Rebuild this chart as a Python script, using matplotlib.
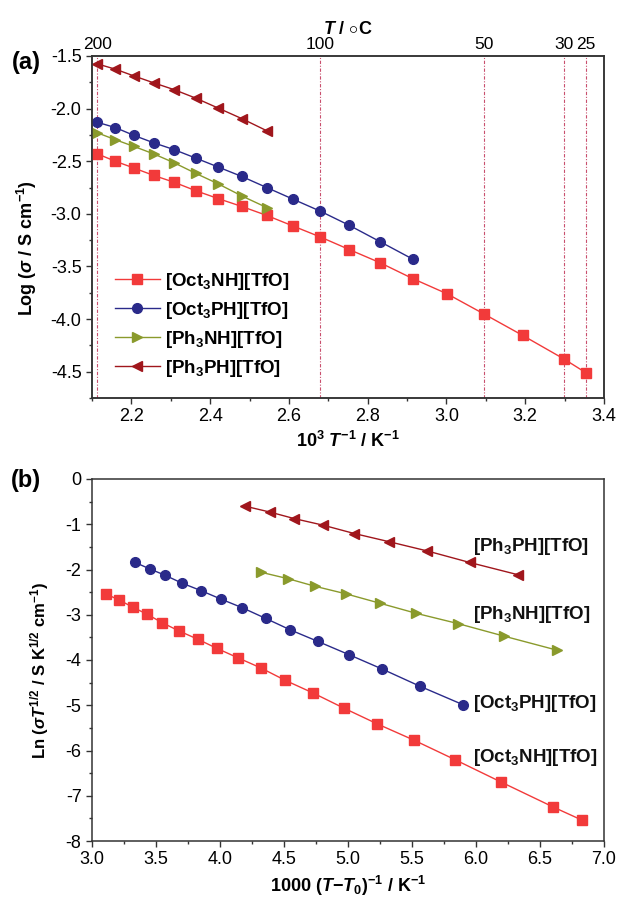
import matplotlib
matplotlib.use('Agg')
import matplotlib.pyplot as plt
from matplotlib.ticker import MultipleLocator, FixedLocator

plt.rcParams['font.family'] = ['Liberation Sans', 'DejaVu Sans']
plt.rcParams['mathtext.fontset'] = 'custom'
plt.rcParams['mathtext.rm'] = 'Liberation Sans:bold'
plt.rcParams['mathtext.it'] = 'Liberation Sans:italic:bold'
plt.rcParams['mathtext.bf'] = 'Liberation Sans:bold'

# panel (a): 10^3/T (K^-1) at 200..30, 25 degC
inv_t = [2.1135, 2.1591, 2.2068, 2.2566, 2.3087, 2.3632, 2.4204, 2.4804, 2.5436,
         2.6100, 2.6799, 2.7537, 2.8317, 2.9142, 3.0017, 3.0945, 3.1934, 3.2987, 3.3540]
a_oct3nh = [-2.43, -2.50, -2.565, -2.635, -2.70, -2.78, -2.855, -2.93, -3.015, -3.115,
            -3.22, -3.34, -3.465, -3.615, -3.76, -3.95, -4.155, -4.38, -4.51]
a_oct3ph = [-2.13, -2.18, -2.255, -2.325, -2.39, -2.47, -2.555, -2.645, -2.75, -2.86,
            -2.975, -3.11, -3.265, -3.43]
a_ph3nh = [-2.23, -2.295, -2.36, -2.43, -2.515, -2.615, -2.715, -2.83, -2.94]
a_ph3ph = [-1.575, -1.625, -1.69, -1.755, -1.82, -1.90, -1.995, -2.095, -2.21]

# top axis temperatures (degC) and their 10^3/T positions
top_labels = ['200', '100', '50', '30', '25']
top_pos = [2.1135, 2.6799, 3.0945, 3.2987, 3.3540]

# panel (b): VTF plot
b_oct3nh_x = [3.108, 3.209, 3.317, 3.431, 3.548, 3.681, 3.826, 3.973, 4.143, 4.319,
              4.51, 4.728, 4.965, 5.227, 5.514, 5.834, 6.198, 6.604, 6.829]
b_oct3nh_y = [-2.54, -2.67, -2.83, -2.99, -3.175, -3.36, -3.54, -3.74, -3.955, -4.175,
              -4.45, -4.73, -5.06, -5.41, -5.77, -6.20, -6.70, -7.25, -7.54]
b_oct3ph_x = [3.333, 3.450, 3.573, 3.702, 3.850, 4.004, 4.174, 4.356, 4.550, 4.765,
              5.006, 5.267, 5.566, 5.896]
b_oct3ph_y = [-1.84, -1.985, -2.13, -2.30, -2.465, -2.65, -2.845, -3.08, -3.335, -3.59,
              -3.88, -4.20, -4.585, -4.985]
b_ph3nh_x = [4.319, 4.534, 4.741, 4.987, 5.249, 5.535, 5.859, 6.222, 6.629]
b_ph3nh_y = [-2.06, -2.205, -2.37, -2.54, -2.745, -2.97, -3.195, -3.475, -3.78]
b_ph3ph_x = [4.195, 4.389, 4.580, 4.805, 5.049, 5.320, 5.619, 5.951, 6.327]
b_ph3ph_y = [-0.60, -0.73, -0.875, -1.02, -1.205, -1.385, -1.59, -1.845, -2.115]

names = [r'[Oct$_3$NH][TfO]', r'[Oct$_3$PH][TfO]', r'[Ph$_3$NH][TfO]', r'[Ph$_3$PH][TfO]']
colors = ['#f23a3a', '#2a2a8a', '#8a9a2c', '#a0161c']
markers = ['s', 'o', '>', '<']
msizes = [6.5, 7, 7.5, 7.5]

fig = plt.figure(figsize=(6.18, 8.99), dpi=100)
ax1 = fig.add_axes([92/618, 1 - 398/899, 512/618, 342/899])
ax2 = fig.add_axes([92/618, 1 - 841/899, 512/618, 362/899])

def style(ax):
    for s in ax.spines.values():
        s.set_linewidth(1.1)
        s.set_color('#333333')
    ax.tick_params(which='both', direction='out', top=False, right=False,
                   labelsize=13, width=1.0, color='#333333', pad=3)
    ax.tick_params(which='major', length=4.5)
    ax.tick_params(which='minor', length=2.5)

# ---- panel (a)
for xv in top_pos:
    ax1.axvline(xv, color='#c9506e', lw=0.8, ls=(0, (3, 1.5, 1, 1.5)), zorder=1)
series_a = [a_oct3nh, a_oct3ph, a_ph3nh, a_ph3ph]
for ys, n, c, m, ms in zip(series_a, names, colors, markers, msizes):
    ax1.plot(inv_t[:len(ys)], ys, color=c, marker=m, ms=ms, lw=1.0, label=n, zorder=3)
ax1.set_xlim(2.1, 3.4)
ax1.set_ylim(-4.75, -1.5)
ax1.xaxis.set_minor_locator(MultipleLocator(0.1))
ax1.yaxis.set_minor_locator(MultipleLocator(0.25))
ax1.set_xticks([2.2, 2.4, 2.6, 2.8, 3.0, 3.2, 3.4])
ax1.set_xticklabels(['2.2', '2.4', '2.6', '2.8', '3.0', '3.2', '3.4'])
ax1.set_yticks([-1.5, -2.0, -2.5, -3.0, -3.5, -4.0, -4.5])
ax1.set_yticklabels(['-1.5', '-2.0', '-2.5', '-3.0', '-3.5', '-4.0', '-4.5'])
style(ax1)
ax1.set_xlabel(r'10$^{3}$ $T^{-1}$ / K$^{-1}$', fontsize=13, fontweight='bold', labelpad=4)
fig.text(27/618, 1 - 248/899, r'Log ($\sigma$ / S cm$^{-1}$)', rotation=90,
         ha='center', va='center', fontsize=13, fontweight='bold')
ax1.legend(loc='lower left', bbox_to_anchor=(0.03, 0.035), frameon=False,
           handlelength=2.4, labelspacing=0.42, handletextpad=0.3, borderaxespad=0,
           prop={'weight': 'bold', 'size': 13.5})

top = ax1.twiny()
top.set_xlim(ax1.get_xlim())
top.set_xticks(top_pos)
top.set_xticklabels(top_labels)
top.tick_params(axis='x', length=0, labelsize=12.5, pad=3)
top.xaxis.set_minor_locator(FixedLocator([]))
for s in top.spines.values():
    s.set_linewidth(1.1)
    s.set_color('#333333')
top.set_xlabel(r'$T$ / $\circ$C', fontsize=13, fontweight='bold', labelpad=2)
fig.text(26/618, 1 - 62/899, '(a)', fontsize=17, fontweight='bold', ha='center', va='center')

# ---- panel (b)
series_b = [(b_oct3nh_x, b_oct3nh_y), (b_oct3ph_x, b_oct3ph_y),
            (b_ph3nh_x, b_ph3nh_y), (b_ph3ph_x, b_ph3ph_y)]
for (xs, ys), c, m, ms in zip(series_b, colors, markers, msizes):
    ax2.plot(xs, ys, color=c, marker=m, ms=ms, lw=1.0, zorder=3)
ax2.set_xlim(3.0, 7.0)
ax2.set_ylim(-8, 0)
ax2.xaxis.set_major_locator(MultipleLocator(0.5))
ax2.xaxis.set_minor_locator(MultipleLocator(0.25))
ax2.yaxis.set_minor_locator(MultipleLocator(0.5))
ax2.xaxis.set_major_formatter(matplotlib.ticker.FormatStrFormatter('%.1f'))
ax2.set_yticks([0, -1, -2, -3, -4, -5, -6, -7, -8])
ax2.set_yticklabels(['0', '-1', '-2', '-3', '-4', '-5', '-6', '-7', '-8'])
style(ax2)
ax2.set_xlabel(r'1000 ($T$$-$$T_0$)$^{-1}$ / K$^{-1}$', fontsize=13, fontweight='bold', labelpad=4)
fig.text(40/618, 1 - 670/899, r'Ln ($\sigma T^{1/2}$ / S K$^{1/2}$ cm$^{-1}$)', rotation=90,
         ha='center', va='center', fontsize=12, fontweight='bold')
label_pos_b = [(5.98, -6.15), (5.98, -4.97), (5.98, -2.99), (5.98, -1.50)]
for n, (tx, ty) in zip(names, label_pos_b):
    ax2.text(tx, ty, n, fontsize=13.5, fontweight='bold', ha='left', va='center', color='#111111')
fig.text(26/618, 1 - 480/899, '(b)', fontsize=17, fontweight='bold', ha='center', va='center')

fig.savefig('out.png', dpi=100)
